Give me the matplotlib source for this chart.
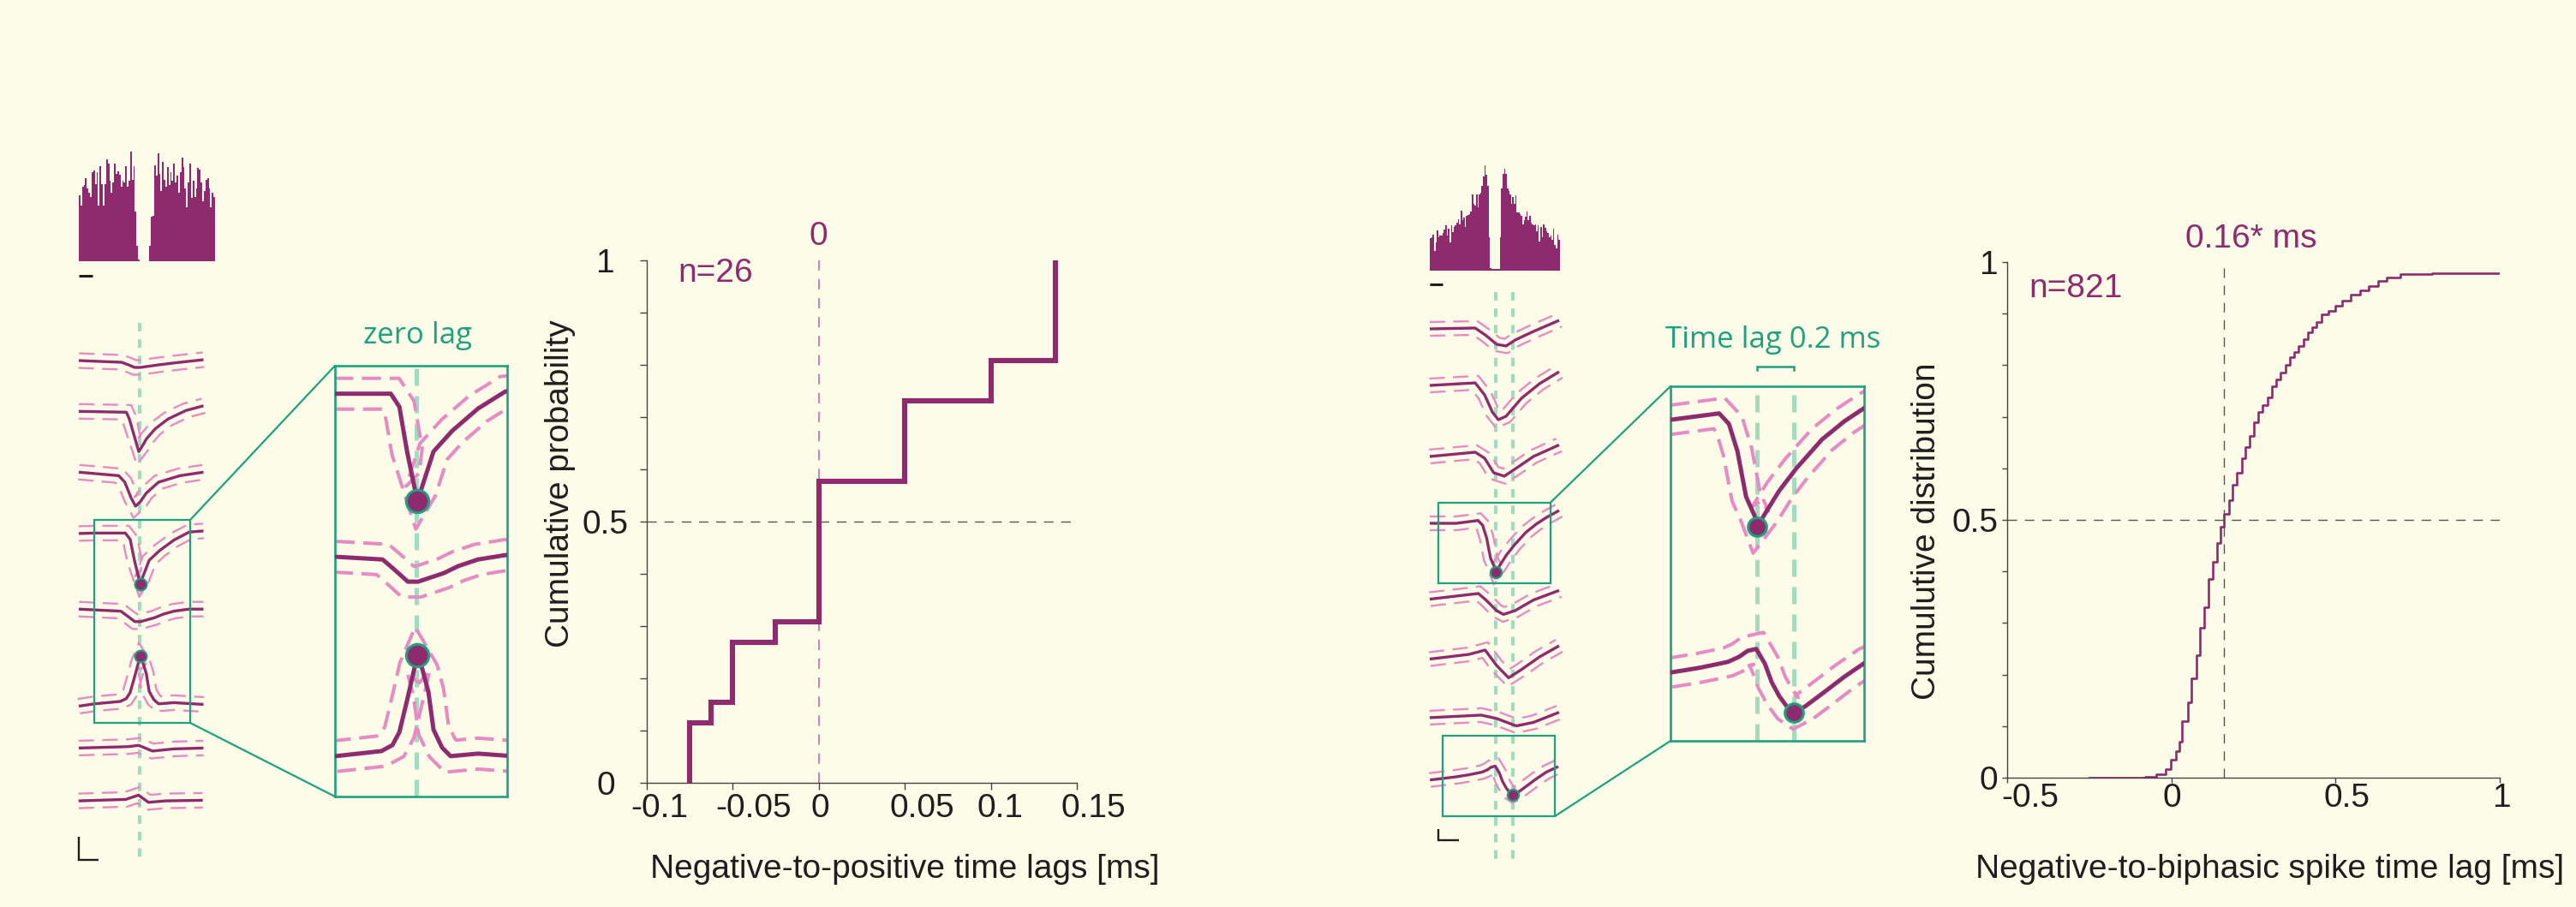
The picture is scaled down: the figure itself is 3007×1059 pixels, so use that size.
import numpy as np
import matplotlib
matplotlib.use("Agg")
import matplotlib.pyplot as plt
from matplotlib.patches import Rectangle, ConnectionPatch
from matplotlib.transforms import ScaledTranslation

# ---------------------------------------------------------------- data
# autocorrelograms (counts per bin)
acg_left = [230, 195, 260, 265, 290, 255, 240, 225, 310, 317, 270, 312, 195, 333, 270, 195,
            270, 355, 340, 280, 240, 275, 340, 305, 315, 302, 260, 280, 275, 333, 260, 280,
            383, 285, 333, 175, 55, 7,
            0, 0, 0, 0, 0, 0,
            55, 155, 160, 335, 300, 377, 305, 245, 347, 285, 260, 330, 265, 310, 280, 340,
            275, 300, 240, 310, 362, 330, 255, 190, 275, 340, 220, 280, 225, 255, 325, 320,
            275, 210, 245, 285, 290, 255, 190, 240, 225]
acg_right = [112, 117, 124, 69, 97, 139, 117, 122, 122, 132, 142, 159, 122, 145, 97, 159,
             135, 152, 159, 167, 179, 162, 209, 175, 185, 152, 192, 195, 197, 207, 267, 232,
             227, 267, 222, 267, 272, 295, 327, 367, 335, 295, 117, 9,
             5, 5, 5, 5, 5,
             7, 117, 287, 337, 355, 337, 287, 277, 267, 232, 257, 232, 262, 202, 202, 197,
             192, 162, 177, 187, 207, 177, 192, 167, 162, 157, 162, 137, 157, 102, 152, 117,
             162, 149, 137, 132, 115, 122, 107, 147, 89, 77, 124, 107]

# mean waveforms, left unit (time in ms, amplitude in uV)
wl_t = [
    [-0.71, -0.21, -0.13, -0.06, 0.01, 0.22, 0.47, 0.745],
    [-0.71, -0.155, -0.12, -0.01, 0.04, 0.08, 0.18, 0.33, 0.54, 0.745],
    [-0.71, -0.244, -0.173, -0.101, -0.048, 0.006, 0.077, 0.22, 0.47, 0.745],
    [-0.71, -0.52, -0.167, -0.111, -0.061, 0.006, 0.028, 0.111, 0.233, 0.40, 0.578, 0.745],
    [-0.71, -0.22, -0.155, -0.056, 0.011, 0.178, 0.27, 0.40, 0.578, 0.745],
    [-0.71, -0.528, -0.228, -0.156, -0.111, -0.061, -0.01, 0.005, 0.039, 0.078, 0.111,
     0.167, 0.222, 0.40, 0.745],
    [-0.71, -0.14, -0.01, 0.15, 0.40, 0.745],
    [-0.713, -0.163, -0.013, 0.103, 0.303, 0.737],
]
wl_v = [
    [0, -2, -5, -8, -8, -5, -2, 1],
    [14, 13, 5, -33, -25, -18, -6.5, 5, 15, 20.5],
    [16.3, 12.2, 4.6, -13.4, -23.4, -18.4, -8.2, 4.6, 12.2, 16.3],
    [18, 18.5, 18.5, 11.3, -13.3, -40.6, -35, -13.3, -1.9, 10.3, 19.7, 21],
    [3, 0.6, -4.1, -11.6, -11.6, -6.9, -3.1, 0.6, 3, 3],
    [-37, -34.3, -31.5, -28.2, -21.1, -3.6, 15.2, 21.4, 13.4, 1, -19.7, -29.6, -34.3,
     -32.9, -35],
    [-12.6, -11, -9.5, -16.1, -13.6, -12.6],
    [-1, 0.7, 5.7, -2.7, -1, -0.3],
]

# mean waveforms, right unit
wr_t = [
    [-0.77, -0.24, -0.11, 0.01, 0.12, 0.226, 0.44, 0.74],
    [-0.77, -0.24, -0.13, -0.04, 0.03, 0.12, 0.30, 0.51, 0.74],
    [-0.77, -0.24, -0.13, -0.024, 0.10, 0.226, 0.44, 0.74],
    [-0.77, -0.462, -0.206, -0.153, -0.107, -0.06, -0.014, 0.0, 0.042, 0.12, 0.213, 0.352,
     0.474, 0.591, 0.74],
    [-0.77, -0.203, -0.114, 0.01, 0.09, 0.226, 0.44, 0.74],
    [-0.77, -0.31, -0.124, 0.01, 0.15, 0.297, 0.51, 0.74],
    [-0.77, -0.17, 0.01, 0.24, 0.44, 0.74],
    [-0.767, -0.462, -0.316, -0.159, -0.098, -0.051, -0.005, 0.042, 0.079, 0.12, 0.167,
     0.2, 0.259, 0.352, 0.474, 0.591, 0.73],
]
wr_v = [
    [0, 1, -8, -18, -20, -13, -3, 10],
    [9.1, 12.1, -1.9, -21.9, -30.9, -26.9, -5.9, 11.1, 25.1],
    [1.3, 6.3, -0.7, -17.7, -21.7, -13.3, 1.3, 14.8],
    [-1.6, -1.6, 1.7, -3.9, -18.4, -42.6, -52.6, -58.6, -51.6, -39.3, -27.4, -12.1, -2.4,
     5.2, 13.4],
    [-15, -8.4, -16, -28.4, -32.8, -28.4, -16, -4.8],
    [-9.8, -4.3, 0.7, -17.3, -31.7, -22.3, -7.3, 5.7],
    [-3.1, -0.1, -4.1, -12.7, -8.6, 3.2],
    [-0.7, 3, 5.3, 8.5, 11.2, 14.4, 15.4, 7.5, -2.3, -9.7, -16, -18.2, -15.2, -8.4, 0.7,
     8.5, 15],
]

# cumulative distributions
lag_left = [-0.075, -0.0625, -0.05, -0.025, 0.0, 0.05, 0.1, 0.1375]
cum_count_left = [3, 4, 7, 8, 15, 19, 21, 26]
n_left = 26
xticks_left = [-0.1, -0.05, 0, 0.05, 0.1, 0.15]
xticklabels_left = ["-0.1", "-0.05", "0", "0.05", "0.1", "0.15"]

lag_right = [-0.25, -0.079, -0.045, -0.017, -0.001, 0.013, 0.024, 0.033, 0.051, 0.062,
             0.076, 0.088, 0.099, 0.113, 0.127, 0.138, 0.150, 0.161, 0.175, 0.186, 0.200,
             0.214, 0.225, 0.237, 0.251, 0.264, 0.278, 0.292, 0.306, 0.319, 0.333, 0.347,
             0.361, 0.374, 0.388, 0.402, 0.416, 0.429, 0.443, 0.457, 0.478, 0.498, 0.519,
             0.546, 0.574, 0.601, 0.629, 0.656, 0.698, 0.794, 1.0]
cdf_right = [0, 0.002, 0.007, 0.017, 0.035, 0.052, 0.069, 0.110, 0.147, 0.193, 0.238,
             0.291, 0.330, 0.386, 0.419, 0.455, 0.487, 0.512, 0.538, 0.568, 0.592, 0.620,
             0.642, 0.663, 0.689, 0.709, 0.722, 0.737, 0.759, 0.772, 0.785, 0.800, 0.815,
             0.826, 0.837, 0.850, 0.863, 0.874, 0.883, 0.898, 0.906, 0.915, 0.925, 0.937,
             0.945, 0.954, 0.963, 0.970, 0.976, 0.978, 0.978]
n_right = 821
median_right = 0.16
xticks_right = [-0.5, 0, 0.5, 1]
xticklabels_right = ["-0.5", "0", "0.5", "1"]

# ---------------------------------------------------------------- style
W, H, DPI = 3007, 1059, 100
BG = "#fdfce9"
PURPLE = "#8e2b6f"
PINK = "#e68bc4"
GREEN = "#1fa07f"
LGREEN = "#a3dbc1"
DARK = "#1e1e1e"
AX = "#444444"
GRAY = "#555555"
FS = 28

plt.rcParams["font.family"] = ["Liberation Sans", "DejaVu Sans"]
fig = plt.figure(figsize=(W / DPI, H / DPI), dpi=DPI, facecolor=BG)


def px_axes(x0, y0, x1, y1):
    ax = fig.add_axes([x0 / W, 1 - y1 / H, (x1 - x0) / W, (y1 - y0) / H])
    ax.patch.set_visible(False)
    return ax


def fig_text(x, y, s, **kw):
    fig.text(x / W, 1 - y / H, s, **kw)


def offset_curve(ax, x, y, d):
    pts = ax.transData.transform(np.column_stack([x, y]))
    seg = np.diff(pts, axis=0)
    seg = seg / np.linalg.norm(seg, axis=1)[:, None]
    nrm = np.column_stack([-seg[:, 1], seg[:, 0]])
    vn = np.zeros_like(pts)
    vn[0], vn[-1] = nrm[0], nrm[-1]
    m = nrm[:-1] + nrm[1:]
    m = m / np.linalg.norm(m, axis=1)[:, None]
    cos = np.sum(m * nrm[1:], axis=1)
    vn[1:-1] = m / np.clip(cos, 0.55, 1.0)[:, None]
    out = pts + d * vn
    return ax.transData.inverted().transform(out).T


def draw_wave(ax, t, y, band, lw, blw, bdash):
    for sgn in (1, -1):
        bx, by = offset_curve(ax, t, y, sgn * band)
        ax.plot(bx, by, color=PINK, lw=blw, dashes=bdash, zorder=2)
    ax.plot(t, y, color=PURPLE, lw=lw, solid_joinstyle="round", solid_capstyle="butt",
            zorder=3)


def mark(ax, t, y, kind, ms, mew):
    i = int(np.argmin(y)) if kind == "min" else int(np.argmax(y))
    ax.plot(t[i], y[i], "o", ms=ms, mfc=PURPLE, mec=GREEN, mew=mew, zorder=5)


def draw_acg(ax, h, bar_y):
    x = np.arange(len(h))
    ax.bar(x, h, width=1.0, color=PURPLE, linewidth=0)
    ax.set_xlim(-0.5, len(h) - 0.5)
    ax.set_ylim(0, max(h))
    ax.set_axis_off()
    ax.plot([0, 0.1], [bar_y, bar_y], transform=ax.transAxes, color=DARK, lw=2.2,
            clip_on=False, solid_capstyle="butt")


def big_box(ax):
    ax.set_xticks([])
    ax.set_yticks([])
    for s in ax.spines.values():
        s.set_color(GREEN)
        s.set_linewidth(1.9)


# ---------------------------------------------------------------- histograms
draw_acg(px_axes(92, 177, 251, 305), acg_left, -0.135)
draw_acg(px_axes(1669, 193, 1821, 316), acg_right, -0.13)

# ---------------------------------------------------------------- left waveform column
SPL = 73.3
axl = px_axes(80, 360, 250, 1015)
axl.set_xlim(-0.83, 0.87)
axl.set_ylim(-594, 61)
axl.set_axis_off()
axl.plot([0, 0], [44, -584], color=LGREEN, lw=3.0, dashes=(2.4, 2.2), zorder=1)
left_y = []
for k, (t, v) in enumerate(zip(wl_t, wl_v)):
    y = np.asarray(v, float) - k * SPL
    left_y.append(y)
    draw_wave(axl, t, y, 8.5, 2.4, 1.7, (7.6, 4.1))
mark(axl, wl_t[3], left_y[3], "min", 10, 1.5)
mark(axl, wl_t[5], left_y[5], "max", 10, 1.5)
axl.plot([-0.71, -0.71, -0.48], [-556, -583, -583], color=DARK, lw=1.7,
         solid_joinstyle="miter", solid_capstyle="butt")

# left magnified box (exact zoom on rows 4-6)
LX, LY = (-0.53, 0.59), (-423, -186)
axL = px_axes(391, 427, 592, 930)
axL.set_xlim(*LX)
axL.set_ylim(*LY)
big_box(axL)
axL.plot([0, 0], list(LY), color=LGREEN, lw=3.6, dashes=(4, 2.4), zorder=1)
for k in (3, 4, 5):
    draw_wave(axL, wl_t[k], left_y[k], 18, 3.6, 2.9, (5.5, 2.5))
mark(axL, wl_t[3], left_y[3], "min", 19, 2.2)
mark(axL, wl_t[5], left_y[5], "max", 19, 2.2)
axl.add_patch(Rectangle((LX[0], LY[0]), LX[1] - LX[0], LY[1] - LY[0], fill=False,
                        ec=GREEN, lw=1.6, zorder=4))
for ya, yb in ((LY[1], 1), (LY[0], 0)):
    fig.add_artist(ConnectionPatch(xyA=(LX[1], ya), coordsA=axl.transData, xyB=(0, yb),
                                   coordsB=axL.transAxes, color=GREEN, lw=1.6))
fig_text(488, 392, "zero lag", family=["Open Sans", "DejaVu Sans"], fontsize=25,
         color=GREEN, ha="center", va="center")

# ---------------------------------------------------------------- right waveform column
SPR = 75.14
axr = px_axes(1660, 330, 1830, 1015)
axr.set_xlim(-0.86, 0.84)
axr.set_ylim(-631, 54)
axr.set_axis_off()
for tl in (0.0, 0.2):
    axr.plot([tl, tl], [43, -621], color=LGREEN, lw=3.0, dashes=(2.4, 2.2), zorder=1)
right_y = []
for k, (t, v) in enumerate(zip(wr_t, wr_v)):
    y = np.asarray(v, float) - k * SPR
    right_y.append(y)
    draw_wave(axr, t, y, 8, 2.4, 1.7, (7.6, 4.1))
mark(axr, wr_t[3], right_y[3], "min", 9.6, 1.5)
mark(axr, wr_t[7], right_y[7], "min", 9.6, 1.5)
axr.plot([-0.67, -0.67, -0.43], [-584, -597, -597], color=DARK, lw=1.7,
         solid_joinstyle="miter", solid_capstyle="butt")
box1 = ((-0.674, -297), 1.31, 94)
box2 = ((-0.624, -569), 1.314, 94)
for (xy, w, h) in (box1, box2):
    axr.add_patch(Rectangle(xy, w, h, fill=False, ec=GREEN, lw=1.6, zorder=4))

RX, RY = (-0.47, 0.58), (-172.1, 16.1)
axR = px_axes(1950, 451, 2176, 865)
axR.set_xlim(*RX)
axR.set_ylim(*RY)
big_box(axR)
for tl in (0.0, 0.2):
    axR.plot([tl, tl], list(RY), color=LGREEN, lw=3.6, dashes=(4, 2.4), zorder=1)
yA = np.asarray(wr_v[3], float)
yB = np.asarray(wr_v[7], float) - 138.7
draw_wave(axR, wr_t[3], yA, 17, 3.6, 2.9, (5.5, 2.5))
draw_wave(axR, wr_t[7], yB, 17, 3.6, 2.9, (5.5, 2.5))
mark(axR, wr_t[3], yA, "min", 15.6, 2.2)
mark(axR, wr_t[7], yB, "min", 15.6, 2.2)
axR.plot([0, 0, 0.2, 0.2], [24.6, 26.6, 26.6, 24.6], color=GREEN, lw=1.8, clip_on=False,
         solid_joinstyle="miter")
fig.add_artist(ConnectionPatch(xyA=(box1[0][0] + box1[1], box1[0][1] + box1[2]),
                               coordsA=axr.transData, xyB=(0, 1), coordsB=axR.transAxes,
                               color=GREEN, lw=1.6))
fig.add_artist(ConnectionPatch(xyA=(box2[0][0] + box2[1], box2[0][1]),
                               coordsA=axr.transData, xyB=(0, 0), coordsB=axR.transAxes,
                               color=GREEN, lw=1.6))
fig_text(2070, 397, "Time lag 0.2 ms", family=["Open Sans", "DejaVu Sans"], fontsize=25,
         color=GREEN, ha="center", va="center")


# ---------------------------------------------------------------- cumulative plots
def cum_axes(ax, xlim, xticks, xlabels, tlen, xpad, ypad, shifts):
    ax.set_xlim(*xlim)
    ax.set_ylim(0, 1)
    for s in ("top", "right"):
        ax.spines[s].set_visible(False)
    for s in ("left", "bottom"):
        ax.spines[s].set_color(AX)
        ax.spines[s].set_linewidth(1.0)
    ax.set_xticks(xticks)
    ax.set_xticklabels(xlabels)
    yt = np.round(np.arange(0, 1.001, 0.1), 1)
    ax.set_yticks(yt)
    ax.set_yticklabels(["0" if v == 0 else "0.5" if v == 0.5 else "1" if v == 1 else ""
                        for v in yt])
    ax.tick_params(axis="both", direction="out", length=tlen, width=1.0, colors=AX,
                   labelcolor=DARK, labelsize=FS)
    ax.tick_params(axis="x", pad=xpad)
    ax.tick_params(axis="y", pad=ypad)
    for lab, dx in zip(ax.get_xticklabels(), shifts):
        lab.set_transform(lab.get_transform() +
                          ScaledTranslation(dx / DPI, 0, fig.dpi_scale_trans))


ax1 = px_axes(754.6, 303.6, 1257, 914)
cum_axes(ax1, (-0.1, 0.15), xticks_left, xticklabels_left, 5.8, 2.6, 28.5,
         [15, 24, 2, 20, 11, 19])
for lab in ax1.get_yticklabels():
    lab.set_horizontalalignment("center")
ax1.plot([-0.1, 0.15], [0.5, 0.5], color=GRAY, lw=1.0, dashes=(8, 6.5))
ax1.plot([0, 0], [0, 1], color="#c060a5", lw=1.1, dashes=(8, 6.5))
ax1.plot([lag_left[0]] + lag_left, [0] + [c / n_left for c in cum_count_left],
         drawstyle="steps-post", color=PURPLE, lw=4.4, clip_on=False,
         solid_joinstyle="miter", solid_capstyle="butt", zorder=4)
ax1.text(-0.06, 0.975, f"n={n_left}", color=PURPLE, fontsize=28, ha="center", va="center")
ax1.text(0, 1.046, "0", color=PURPLE, fontsize=28, ha="center", va="center")
fig_text(654, 565, "Cumulative probability", fontsize=28, color=DARK, rotation=90,
         ha="center", va="center")
fig_text(1056, 1015, "Negative-to-positive time lags [ms]", fontsize=28, color=DARK,
         ha="center", va="center")

ax2 = px_axes(2343, 306, 2918, 908)
cum_axes(ax2, (-0.5, 1.0), xticks_right, xticklabels_right, 4, 0, 3.5, [27, 1, 13, 3])
ax2.plot([-0.5, 1.0], [0.5, 0.5], color=GRAY, lw=1.0, dashes=(8, 6.5))
ax2.plot([median_right, median_right], [0, 1], color=GRAY, lw=1.0, dashes=(8, 6.5))
ax2.plot(lag_right, cdf_right, drawstyle="steps-post", color=PURPLE, lw=1.9, zorder=4)
ax2.text(-0.292, 0.949, f"n={n_right}", color=PURPLE, fontsize=28, ha="center",
         va="center")
ax2.text(0.243, 1.045, f"{median_right:.2f}* ms", color=PURPLE, fontsize=28, ha="center",
         va="center")
fig_text(2249, 620, "Cumulutive distribution", fontsize=28, color=DARK, rotation=90,
         ha="center", va="center")
fig_text(2306, 1015, "Negative-to-biphasic spike time lag [ms]", fontsize=28, color=DARK,
         ha="left", va="center")

fig.savefig("out.png", dpi=DPI, facecolor=BG)
